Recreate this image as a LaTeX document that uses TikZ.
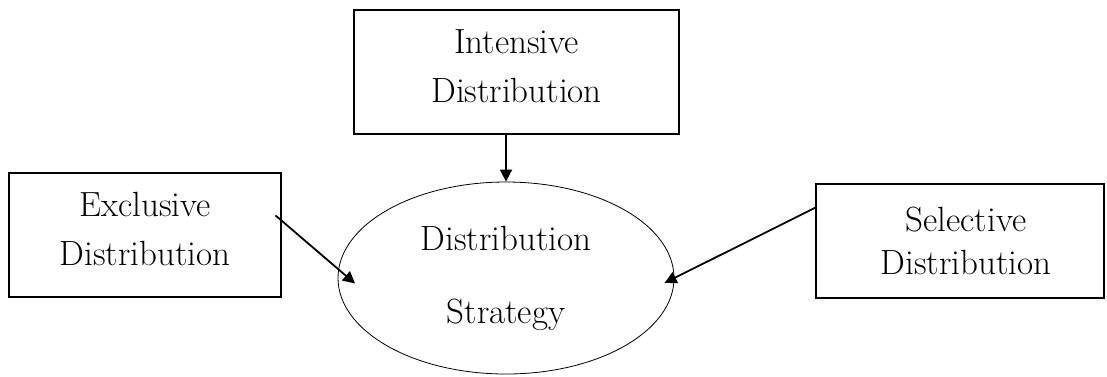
\documentclass[tikz,border=0pt]{standalone}
\usetikzlibrary{arrows.meta, shapes.geometric}

\begin{document}
\begin{tikzpicture}[x=1pt, y=-1pt,
   box/.style={draw, rectangle, line width=1.2pt, align=center, inner sep=0pt},
   txt/.style={font=\fontsize{35}{49}\selectfont},
   arr/.style={-{Triangle[length=12pt, width=12pt]}, line width=1.8pt}]
   \useasboundingbox (0,0) rectangle (1107,376);
   % Types of distribution
   \node[box, txt, text depth=12pt, minimum width=325pt, minimum height=124pt] (intensive)
      at (516.5,72) {Intensive\\Distribution};
   \node[box, txt, text depth=12pt, minimum width=272pt, minimum height=124pt] (exclusive)
      at (145,235) {Exclusive\\Distribution};
   \node[box, font=\fontsize{35}{43}\selectfont, minimum width=288pt, minimum height=114pt,
      text width=288pt] (selective) at (960,241) {\hspace*{12pt}Selective\\\hspace*{12pt}Distribution};
   % Strategy in the middle
   \node[draw, ellipse, line width=0.8pt, txt, align=center, inner sep=0pt,
      minimum width=336pt, minimum height=192pt] (strategy)
      at (506,278) {Distribution\\[24pt]Strategy};
   % Arrows into the strategy
   \draw[arr] (strategy.north |- intensive.south) -- (strategy.north);
   \draw[arr, shorten <=-8pt, shorten >=-22pt] (exclusive.6) -- (strategy.177);
   \draw[arr, shorten >=-11pt] (selective.167.5) -- (strategy.0);
\end{tikzpicture}
\end{document}
